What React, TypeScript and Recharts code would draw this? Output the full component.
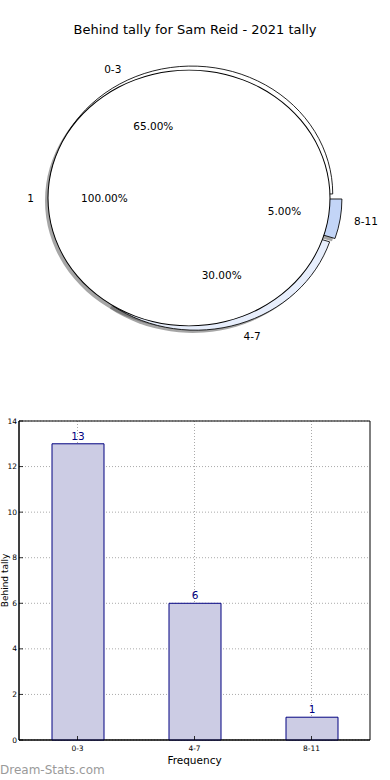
import {
  PieChart,
  Pie,
  Cell,
  BarChart,
  Bar,
  XAxis,
  YAxis,
  CartesianGrid,
  LabelList,
  ReferenceArea,
} from "recharts";

const title = "Behind tally for Sam Reid - 2021 tally";
const categories = ["0-3", "4-7", "8-11"];
const counts = [13, 6, 1];
const innerNames = ["1"];
const innerCounts = [20];
const yTicks = [0, 2, 4, 6, 8, 10, 12, 14];
const xAxisTitle = "Frequency";
const yAxisTitle = "Behind tally";
const watermark = "Dream-Stats.com";

// look
const FONT = "'DejaVu Sans', sans-serif";
const sliceColors = ["#ffffff", "#e7eefc", "#c3d5f7"];
const S = 0.907; // pie is squashed vertically like the original
const CX = 194;
const CY = 218.3;
const R = 141;
const EXPLODE = [5, 5, 7];
const INNER_EXPLODE = 5;
const SH_X = -3;
const SH_Y = 3;
const RAD = Math.PI / 180;

const outerData = categories.map((name, i) => ({ name, value: counts[i] }));
const innerData = innerNames.map((name, i) => ({ name, value: innerCounts[i] }));
const barData = categories.map((name, i) => ({ name, value: counts[i] }));

const total = counts.reduce((a, b) => a + b, 0);
const mids = counts.map((c, i) => {
  const before = counts.slice(0, i).reduce((a, b) => a + b, 0);
  return ((before + c / 2) / total) * 360;
});
const shift = (mid: number, e: number) => [e * Math.cos(mid * RAD), -e * Math.sin(mid * RAD)];

const squash = (y: number) => `translate(0 ${y}) scale(1 ${1 / S}) translate(0 ${-y})`;

const pieTexts = (ox: number, oy: number, mid: number, name: string, percent: number) => {
  const c = Math.cos(mid * RAD);
  const s = -Math.sin(mid * RAD);
  const nx = ox + R * 1.1 * c;
  const ny = oy + R * 1.1 * s;
  const px = ox + R * 0.6 * c;
  const py = oy + R * 0.6 * s;
  return (
    <g>
      <text
        x={nx}
        y={ny}
        textAnchor={c > 0 ? "start" : "end"}
        dominantBaseline="central"
        transform={squash(ny)}
        fontFamily={FONT}
        fontSize={10.5}
        fill="#000000"
        stroke="none"
      >
        {name}
      </text>
      <text
        x={px}
        y={py}
        textAnchor="middle"
        dominantBaseline="central"
        transform={squash(py)}
        fontFamily={FONT}
        fontSize={10.5}
        fill="#000000"
        stroke="none"
      >
        {(percent * 100).toFixed(2)}%
      </text>
    </g>
  );
};

const outerLabel = (p: any) => {
  const [dx, dy] = shift(p.midAngle, EXPLODE[p.index] ?? 0);
  return pieTexts(p.cx + dx, p.cy + dy, p.midAngle, p.name, p.percent);
};

const innerLabel = (p: any) => pieTexts(p.cx, p.cy, p.midAngle, p.name, p.percent);

const YTick = (p: any) => (
  <g>
    <line x1={p.x + 2} x2={p.x + 6} y1={p.y} y2={p.y} stroke="#000" strokeWidth={0.8} />
    <text x={p.x} y={p.y} textAnchor="end" dominantBaseline="central" fontSize={7.5} fill="#000" fontFamily={FONT}>
      {p.payload.value}
    </text>
  </g>
);

const XTick = (p: any) => (
  <g>
    <line x1={p.x} x2={p.x} y1={p.y - 2} y2={p.y - 6} stroke="#000" strokeWidth={0.8} />
    <text x={p.x} y={p.y + 6} textAnchor="middle" dominantBaseline="central" fontSize={7.5} fill="#000" fontFamily={FONT}>
      {p.payload.value}
    </text>
  </g>
);

const YLabel = (p: any) => {
  const vb = p.viewBox || { x: 0, y: 0, width: 0, height: 0 };
  const y = vb.y + vb.height / 2;
  const x = vb.x + 8;
  return (
    <text x={x} y={y} transform={`rotate(-90 ${x} ${y})`} textAnchor="middle" fontSize={9} fill="#000" fontFamily={FONT}>
      {yAxisTitle}
    </text>
  );
};

export default function App() {
  const innerMid = 180;
  const [ix, iy] = shift(innerMid, INNER_EXPLODE);

  return (
    <div style={{ position: "absolute", left: 0, top: 0, width: 390, height: 780, background: "#fff", fontFamily: FONT, overflow: "hidden" }}>
      <div style={{ position: "absolute", left: 0, top: 0, transform: `scaleY(${S})`, transformOrigin: "0 0" }}>
        <PieChart width={390} height={410} margin={{ top: 0, right: 0, bottom: 0, left: 0 }}>
          {/* shadows */}
          {outerData.map((_, i) => {
            const [dx, dy] = shift(mids[i], EXPLODE[i]);
            return (
              <Pie
                key={`sh-${i}`}
                data={outerData}
                dataKey="value"
                nameKey="name"
                cx={CX + dx + SH_X}
                cy={CY + dy + SH_Y}
                outerRadius={R}
                startAngle={0}
                endAngle={360}
                stroke="none"
                labelLine={false}
                isAnimationActive={false}
              >
                {outerData.map((_, j) => (
                  <Cell key={j} fill={j === i ? "#4d4d4d" : "none"} fillOpacity={0.5} stroke="none" />
                ))}
              </Pie>
            );
          })}
          <Pie
            data={innerData}
            dataKey="value"
            nameKey="name"
            cx={CX + ix + SH_X}
            cy={CY + iy + SH_Y}
            outerRadius={R}
            startAngle={0}
            endAngle={360}
            fill="#4d4d4d"
            fillOpacity={0.5}
            stroke="none"
            labelLine={false}
            isAnimationActive={false}
          />
          {/* outer wedges, each exploded */}
          {outerData.map((_, i) => {
            const [dx, dy] = shift(mids[i], EXPLODE[i]);
            return (
              <Pie
                key={`w-${i}`}
                data={outerData}
                dataKey="value"
                nameKey="name"
                cx={CX + dx}
                cy={CY + dy}
                outerRadius={R}
                startAngle={0}
                endAngle={360}
                labelLine={false}
                isAnimationActive={false}
              >
                {outerData.map((_, j) => (
                  <Cell
                    key={j}
                    fill={j === i ? sliceColors[j] : "none"}
                    stroke={j === i ? "#000" : "none"}
                    strokeWidth={0.9}
                  />
                ))}
              </Pie>
            );
          })}
          {/* inner pie */}
          <Pie
            data={innerData}
            dataKey="value"
            nameKey="name"
            cx={CX + ix}
            cy={CY + iy}
            outerRadius={R}
            startAngle={0}
            endAngle={360}
            fill="#ffffff"
            stroke="none"
            labelLine={false}
            isAnimationActive={false}
          />
          <Pie
            data={innerData}
            dataKey="value"
            nameKey="name"
            cx={CX + ix}
            cy={CY + iy}
            innerRadius={R - 0.5}
            outerRadius={R + 0.5}
            startAngle={0}
            endAngle={360}
            fill="#000"
            stroke="none"
            label={innerLabel}
            labelLine={false}
            isAnimationActive={false}
          />
          {/* labels for outer wedges on top */}
          <Pie
            data={outerData}
            dataKey="value"
            nameKey="name"
            cx={CX}
            cy={CY}
            outerRadius={R}
            startAngle={0}
            endAngle={360}
            fill="none"
            stroke="none"
            label={outerLabel}
            labelLine={false}
            isAnimationActive={false}
          />
        </PieChart>
      </div>

      <div style={{ position: "absolute", left: 0, top: 22, width: 390, textAlign: "center", fontSize: 13, lineHeight: "16px", color: "#000" }}>
        {title}
      </div>

      <div style={{ position: "absolute", left: 0, top: 410 }}>
        <BarChart width={390} height={370} data={barData} margin={{ top: 11, right: 20, left: 0, bottom: 0 }}>
          <CartesianGrid
            stroke="#aaaaaa"
            strokeDasharray="1 2"
            verticalCoordinatesGenerator={({ offset }: any) =>
              categories.map((_, i) => offset.left + ((i + 0.5) * offset.width) / categories.length)
            }
          />
          <XAxis
            dataKey="name"
            height={40}
            tickSize={0}
            tickMargin={2}
            tickLine={false}
            axisLine={{ stroke: "#000" }}
            tick={<XTick />}
            label={{ value: xAxisTitle, position: "insideBottom", offset: 16, fontSize: 10.5, fill: "#000", fontFamily: FONT }}
          />
          <YAxis
            width={19}
            domain={[0, 14]}
            ticks={yTicks}
            tickSize={0}
            tickMargin={2}
            tickLine={false}
            axisLine={{ stroke: "#000" }}
            tick={<YTick />}
            label={<YLabel />}
          />
          <ReferenceArea y1={0} y2={14} fill="none" stroke="#000" strokeWidth={1} />
          <Bar dataKey="value" barSize={52} fill="#cccce4" stroke="#000080" strokeWidth={1} isAnimationActive={false}>
            <LabelList dataKey="value" position="top" offset={4} fill="#000080" fontSize={10.5} fontFamily={FONT} />
          </Bar>
        </BarChart>
      </div>

      <div style={{ position: "absolute", left: 0, top: 763, fontSize: 12, lineHeight: "14px", color: "#9a9a9a" }}>
        {watermark}
      </div>
    </div>
  );
}
